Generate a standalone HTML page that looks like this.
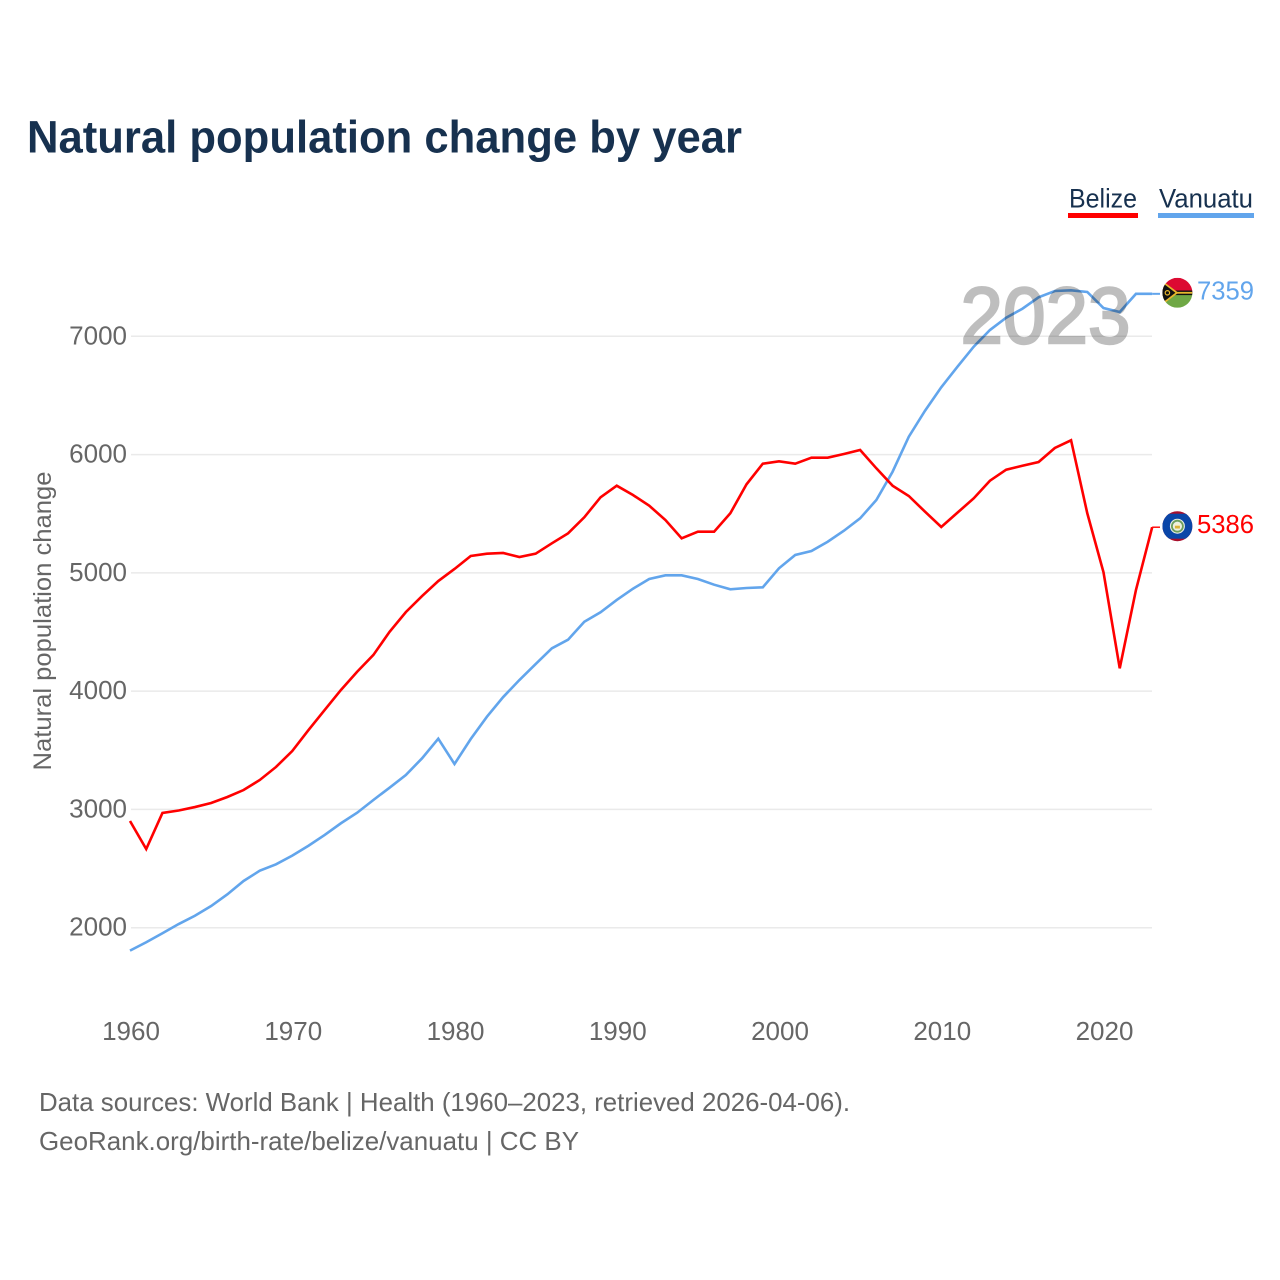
<!DOCTYPE html>
<html lang="en">
<head>
<meta charset="utf-8">
<title>Natural population change by year</title>
<style>
html,body{margin:0;padding:0;background:#fff}
svg{display:block}
text{font-family:"Liberation Sans",sans-serif}
</style>
</head>
<body>
<svg id="chart" xmlns="http://www.w3.org/2000/svg" width="1280" height="1280" viewBox="0 0 1280 1280">
  <text x="27" y="152.5" font-size="45" font-weight="700" fill="#17314f" textLength="715" lengthAdjust="spacingAndGlyphs">Natural population change by year</text>

  <g>
    <g>
      <text x="1069" y="207.5" font-size="27" fill="#17314f" textLength="68" lengthAdjust="spacingAndGlyphs">Belize</text>
      <rect x="1068" y="213" width="70" height="5" fill="#ff0000"/>
    </g>
    <g>
      <text x="1159" y="207.5" font-size="27" fill="#17314f" textLength="94" lengthAdjust="spacingAndGlyphs">Vanuatu</text>
      <rect x="1158" y="213" width="96" height="5" fill="#62a5ec"/>
    </g>
  </g>

  <g id="grid"></g>
  <g id="yticks"></g>
  <g id="xticks"></g>

  <text transform="translate(51 621) rotate(-90)" text-anchor="middle" font-size="25" fill="#666666" textLength="299" lengthAdjust="spacingAndGlyphs">Natural population change</text>

  <g id="series"></g>

  <g opacity="0.25">
    <text x="1045.5" y="343" text-anchor="middle" font-size="80" fill="#000000" stroke="#000000" stroke-width="2.4" textLength="170" lengthAdjust="spacingAndGlyphs">2023</text>
  </g>

  <defs>
    <clipPath id="flag-clip-vu"><circle cx="1178" cy="293" r="15"/></clipPath>
    <clipPath id="flag-clip-bz"><circle cx="1178" cy="526.5" r="15"/></clipPath>
  </defs>

  <g transform="translate(-0.6 -0.2)">
    <g clip-path="url(#flag-clip-vu)">
      <rect x="1163" y="278" width="30" height="15" fill="#dc0a32"/>
      <rect x="1163" y="293" width="30" height="15" fill="#6fa845"/>
      <rect x="1163" y="290.7" width="30" height="4.6" fill="#111111"/>
      <rect x="1172" y="292.1" width="21" height="1.8" fill="#e8b72c"/>
      <polygon points="1163,281 1179,293 1163,305" fill="#e8b72c"/>
      <polygon points="1163,283 1176,293 1163,303" fill="#111111"/>
      <circle cx="1168" cy="293" r="2.2" fill="none" stroke="#e8b72c" stroke-width="1.2"/>
    </g>
  </g>

  <g transform="translate(-0.6 -0.3)">
    <g clip-path="url(#flag-clip-bz)">
      <rect x="1163" y="511" width="30" height="31" fill="#a80f2c"/>
      <rect x="1163" y="514" width="30" height="25" fill="#0a46a8"/>
      <circle cx="1178" cy="526.5" r="7.5" fill="#e9efe6"/>
      <circle cx="1178" cy="526.5" r="5.5" fill="none" stroke="#6d9f5c" stroke-width="1.8"/>
      <circle cx="1178" cy="526.5" r="3.2" fill="#f4f1d2"/>
      <rect x="1175.5" y="526" width="5" height="2.8" fill="#d9b23a"/>
    </g>
  </g>

  <text id="value-vu" x="1197" y="299.5" font-size="26" fill="#62a5ec" textLength="57" lengthAdjust="spacingAndGlyphs"></text>
  <text id="value-bz" x="1197" y="533" font-size="26" fill="#ff0000" textLength="57" lengthAdjust="spacingAndGlyphs"></text>

  <g>
    <text x="39" y="1111" font-size="26" fill="#666666" textLength="811" lengthAdjust="spacingAndGlyphs">Data sources: World Bank | Health (1960–2023, retrieved 2026-04-06).</text>
    <text x="39" y="1150" font-size="26" fill="#666666" textLength="540" lengthAdjust="spacingAndGlyphs">GeoRank.org/birth-rate/belize/vanuatu | CC BY</text>
  </g>
</svg>

<script>
const startYear = 1960;
const yTickValues = [2000, 3000, 4000, 5000, 6000, 7000];
const xTickValues = [1960, 1970, 1980, 1990, 2000, 2010, 2020];
const belizeValues = [
  2902, 2665, 2970, 2991, 3020, 3054, 3105, 3164, 3249, 3359,
  3494, 3671, 3841, 4010, 4164, 4306, 4502, 4668, 4804, 4931,
  5033, 5143, 5162, 5168, 5134, 5162, 5250, 5334, 5470, 5639,
  5737, 5658, 5568, 5447, 5292, 5348, 5348, 5504, 5749, 5923,
  5943, 5923, 5974, 5974, 6005, 6039, 5884, 5737, 5650, 5517,
  5388, 5509, 5630, 5779, 5872, 5906, 5937, 6056, 6121, 5504,
  5005, 4193, 4855, 5386
];
const vanuatuValues = [
  1806, 1877, 1953, 2031, 2101, 2183, 2282, 2395, 2482, 2536,
  2609, 2693, 2784, 2883, 2972, 3080, 3184, 3291, 3432, 3598,
  3384, 3595, 3784, 3950, 4094, 4229, 4362, 4435, 4587, 4667,
  4771, 4866, 4948, 4979, 4979, 4948, 4900, 4861, 4872, 4878,
  5039, 5151, 5185, 5263, 5356, 5461, 5616, 5855, 6151, 6371,
  6569, 6743, 6912, 7053, 7157, 7233, 7330, 7383, 7389, 7375,
  7239, 7205, 7359, 7359
];

const NS = 'http://www.w3.org/2000/svg';
function xScale(year) { return 130 + (year - 1960) * 16.225; }
function yScale(value) { return 927.7 - (value - 2000) * 0.11828; }

const grid = document.getElementById('grid');
const yticks = document.getElementById('yticks');
const xticks = document.getElementById('xticks');
const series = document.getElementById('series');

yTickValues.forEach(function (v) {
  const line = document.createElementNS(NS, 'line');
  
  
  line.setAttribute('x1', 131);
  line.setAttribute('x2', 1152);
  line.setAttribute('y1', yScale(v));
  line.setAttribute('y2', yScale(v));
  line.setAttribute('stroke', '#eaeaea');
  line.setAttribute('stroke-width', 1.5);
  grid.appendChild(line);

  const label = document.createElementNS(NS, 'text');
  
  
  label.setAttribute('x', 127);
  label.setAttribute('y', yScale(v) + 8);
  label.setAttribute('text-anchor', 'end');
  label.setAttribute('font-size', 26);
  label.setAttribute('fill', '#666666');
  label.textContent = String(v);
  yticks.appendChild(label);
});

xTickValues.forEach(function (year) {
  const label = document.createElementNS(NS, 'text');
  
  
  label.setAttribute('x', xScale(year) + 1);
  label.setAttribute('y', 1040);
  label.setAttribute('text-anchor', 'middle');
  label.setAttribute('font-size', 26);
  label.setAttribute('fill', '#666666');
  label.textContent = String(year);
  xticks.appendChild(label);
});

function drawSeries(values, color, key, leadWidth) {
  const points = values.map(function (v, i) {
    return xScale(startYear + i).toFixed(2) + ',' + yScale(v).toFixed(2);
  });
  const line = document.createElementNS(NS, 'polyline');
  
  
  line.setAttribute('points', points.join(' '));
  line.setAttribute('fill', 'none');
  line.setAttribute('stroke', color);
  line.setAttribute('stroke-width', 2.6);
  series.appendChild(line);

  const lastY = yScale(values[values.length - 1]);
  const lead = document.createElementNS(NS, 'line');
  
  
  lead.setAttribute('x1', xScale(startYear + values.length - 1));
  lead.setAttribute('x2', 1160);
  lead.setAttribute('y1', lastY);
  lead.setAttribute('y2', lastY);
  lead.setAttribute('stroke', color);
  lead.setAttribute('stroke-width', leadWidth);
  series.appendChild(lead);
}

drawSeries(vanuatuValues, '#62a5ec', 'vanuatu', 2);
drawSeries(belizeValues, '#ff0000', 'belize', 1.4);

document.getElementById('value-vu').textContent = String(vanuatuValues[vanuatuValues.length - 1]);
document.getElementById('value-bz').textContent = String(belizeValues[belizeValues.length - 1]);
</script>
</body>
</html>
